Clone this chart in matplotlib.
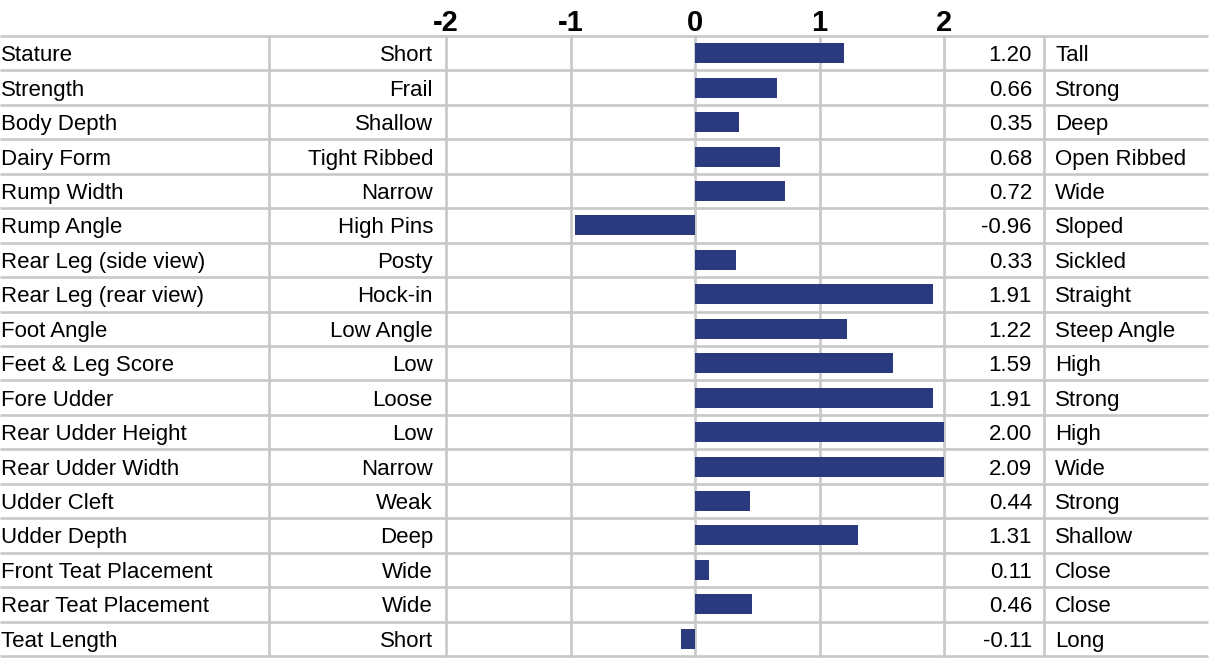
import numpy as np
import matplotlib
matplotlib.use("Agg")
import matplotlib.pyplot as plt

plt.rcParams["font.family"] = ["Liberation Sans", "DejaVu Sans"]

traits = ["Stature", "Strength", "Body Depth", "Dairy Form", "Rump Width",
          "Rump Angle", "Rear Leg (side view)", "Rear Leg (rear view)",
          "Foot Angle", "Feet & Leg Score", "Fore Udder", "Rear Udder Height",
          "Rear Udder Width", "Udder Cleft", "Udder Depth",
          "Front Teat Placement", "Rear Teat Placement", "Teat Length"]
low_labels = ["Short", "Frail", "Shallow", "Tight Ribbed", "Narrow",
              "High Pins", "Posty", "Hock-in", "Low Angle", "Low", "Loose",
              "Low", "Narrow", "Weak", "Deep", "Wide", "Wide", "Short"]
high_labels = ["Tall", "Strong", "Deep", "Open Ribbed", "Wide", "Sloped",
               "Sickled", "Straight", "Steep Angle", "High", "Strong", "High",
               "Wide", "Strong", "Shallow", "Close", "Close", "Long"]
values = [1.20, 0.66, 0.35, 0.68, 0.72, -0.96, 0.33, 1.91, 1.22, 1.59,
          1.91, 2.00, 2.09, 0.44, 1.31, 0.11, 0.46, -0.11]
ticks = [-2, -1, 0, 1, 2]

W, H = 1211, 662
TOP, BOT = 36, 656
X_CHART0, X_CHART1 = 446, 944
GRID = "#c8c8c8"
BAR = "#2b3a7e"
n = len(traits)
row_h = (BOT - TOP) / n

fig = plt.figure(figsize=(W / 100, H / 100), dpi=100)

# background "table" axes in pixel coordinates
tab = fig.add_axes([0, 0, 1, 1])
tab.set_xlim(0, W)
tab.set_ylim(H, 0)
tab.axis("off")

for i in range(n + 1):
    y = TOP + i * row_h
    tab.plot([0, 1208], [y, y], color=GRID, lw=1.9, solid_capstyle="butt")
for x in (269, 1044):
    tab.plot([x, x], [TOP, BOT], color=GRID, lw=1.9, solid_capstyle="butt")

fs = 16
for i in range(n):
    yc = TOP + (i + 0.5) * row_h + 2.5
    tab.text(1, yc, traits[i], ha="left", va="center", fontsize=fs)
    tab.text(433, yc, low_labels[i], ha="right", va="center", fontsize=fs)
    tab.text(1032, yc, f"{values[i]:.2f}", ha="right", va="center",
             fontsize=fs)
    tab.text(1055, yc, high_labels[i], ha="left", va="center", fontsize=fs)

# bar chart axes
ax = fig.add_axes([X_CHART0 / W, 1 - BOT / H,
                   (X_CHART1 - X_CHART0) / W, (BOT - TOP) / H])
ax.patch.set_alpha(0)
ypos = np.arange(n)
ax.barh(ypos, values, height=0.58, color=BAR, zorder=3)
ax.set_xlim(-2, 2)
ax.set_ylim(n - 0.5, -0.5)
ax.set_xticks(ticks)
ax.set_xticklabels([str(t) for t in ticks], fontsize=21, fontweight="bold")
ax.xaxis.tick_top()
ax.tick_params(axis="x", length=0, pad=-0.5)
ax.set_yticks([])
ax.grid(axis="x", color=GRID, lw=1.9, zorder=0)
for gl in ax.get_xgridlines():
    gl.set_clip_on(False)
for s in ax.spines.values():
    s.set_visible(False)

fig.savefig("out.png", dpi=100)
